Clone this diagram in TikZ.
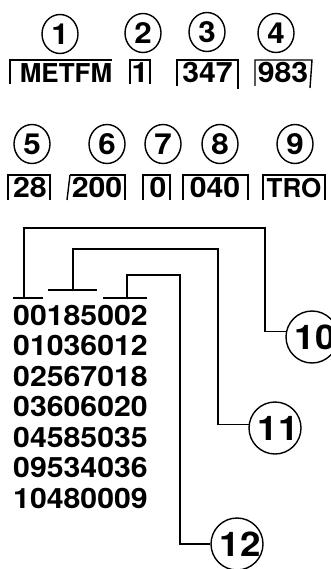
\documentclass[tikz,border=0pt]{standalone}
\usepackage{fontspec}
\usetikzlibrary{shapes.geometric}
\setmainfont{TeX Gyre Heros}
\newfontfamily\hvd[FakeStretch=1.08]{TeX Gyre Heros Bold}
\newfontfamily\hvl{TeX Gyre Heros Bold}
\begin{document}
\begin{tikzpicture}[x=1pt,y=-1pt,
  ln/.style={line width=1.4pt},
  circs/.style={ellipse,draw,line width=1.4pt,minimum width=36pt,minimum height=39pt,inner sep=0pt,font=\hvd\fontsize{29}{29}\selectfont},
  circl/.style={circle,draw,line width=1.4pt,minimum size=52pt,inner sep=0pt,font=\hvd\fontsize{34}{34}\selectfont},
  labd/.style={anchor=base,inner sep=0pt,font=\hvd\fontsize{28}{28}\selectfont},
  labl/.style={anchor=base,inner sep=0pt,font=\hvl\fontsize{26}{26}\selectfont},
  num/.style={anchor=base west,inner sep=0pt,font=\hvd\fontsize{28}{28}\selectfont}]
\useasboundingbox (0,0) rectangle (330,569);
% row 1 circles
\node[circs] (c1) at (60,34) {1};
\node[circs] (c2) at (143,33) {2};
\node[circs] (c3) at (207,32) {3};
\node[circs] (c4) at (276,33) {4};
% row 1 boxes
\node[labl] (b1) at (66,83) {METFM};
\node[labd] (b2) at (140,83) {1};
\node[labd] (b3) at (207.5,83) {347};
\node[labd] (b4) at (283,83) {983};
\draw[ln] (10,84) -- (10,60) -- (112,60);
\draw[ln] (130,84) -- (130,60) -- (150,60) -- (150,84);
\draw[ln] (177,86) -- (177,60) -- (238,60) -- (238,89);
\draw[ln] (255,86) -- (255,60) -- (312,60) -- (310,88);
% row 2 circles
\node[circs] (c5) at (32,144) {5};
\node[circs] (c6) at (107,144) {6};
\node[circs] (c7) at (163,144) {7};
\node[circs] (c8) at (220,144) {8};
\node[circs] (c9) at (295,144) {9};
% row 2 boxes
\node[labd] (b5) at (30,197) {28};
\node[labd] (b6) at (97,197) {200};
\node[labd] (b7) at (158,197) {0};
\node[labd] (b8) at (215,197) {040};
\node[labl] (b9) at (294,197) {TRO};
\draw[ln] (8,200) -- (8,175) -- (50,175) -- (50,200);
\draw[ln] (70,175) -- (67,200);
\draw[ln] (70,175) -- (125,175) -- (125,200);
\draw[ln] (143,200) -- (143,175) -- (170,175) -- (170,200);
\draw[ln] (183,200) -- (183,175) -- (248,175) -- (248,200);
\draw[ln] (263,200) -- (263,175) -- (325,175) -- (325,200);
% number lines
\foreach \t [count=\i from 0] in {00185002,01036012,02567018,03606020,04585035,09534036,10480009}
  \node[num] (r\i) at (13,325+30.5*\i) {\t};
% bottom circles
\node[circl] (c10) at (312,337) {\makebox[42pt][c]{\hspace*{6pt}10}};
\node[circl] (c11) at (275,428) {\makebox[42pt][c]{\hspace*{6pt}11}};
\node[circl] (c12) at (237,544) {\makebox[42pt][c]{\hspace*{6pt}12}};
% brackets
\draw[ln] (13,298) -- (43,298);
\draw[ln] (48,290) -- (97,290);
\draw[ln] (103,298) -- (147,298);
\draw[ln] (24,298) |- (265,228) |- (c10.168);
\draw[ln] (73,290) |- (218,249) |- (c11.173);
\draw[ln] (127,298) |- (180,275) |- (c12.west);
\end{tikzpicture}
\end{document}
